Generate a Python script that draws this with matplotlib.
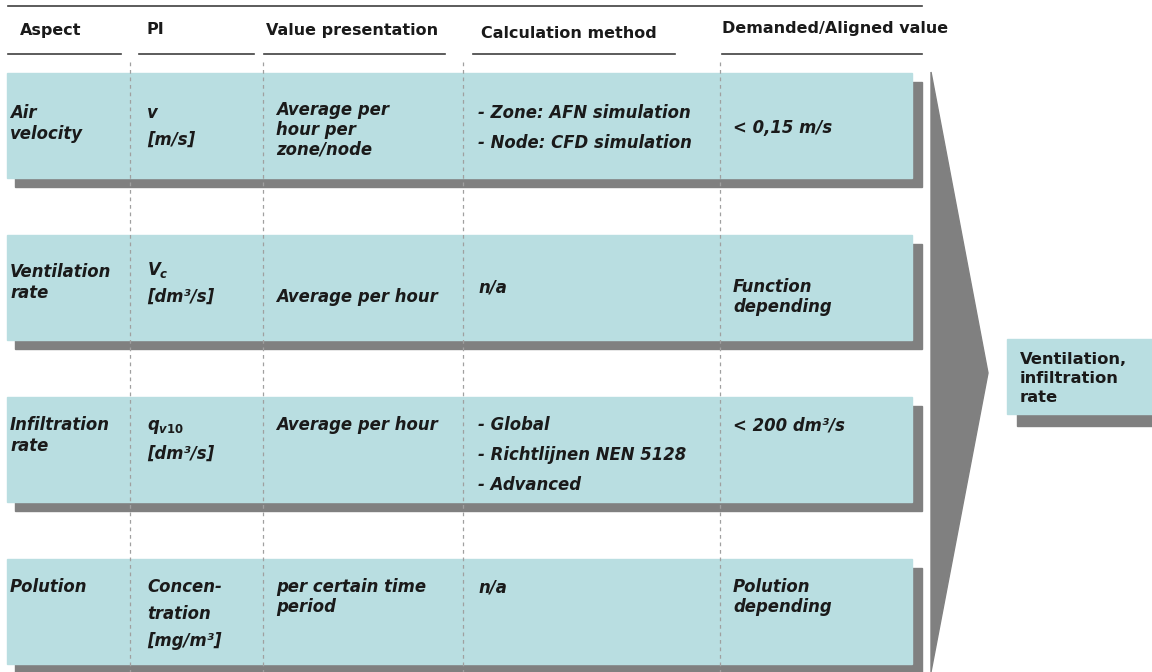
import matplotlib.pyplot as plt
from matplotlib.patches import Rectangle, Polygon

plt.rcParams["font.family"] = ["DejaVu Sans"]
plt.rcParams["mathtext.fontset"] = "custom"
plt.rcParams["mathtext.it"] = "DejaVu Sans:bold:italic"
plt.rcParams["mathtext.rm"] = "DejaVu Sans:bold"

# table content
headers = ["Aspect", "PI", "Value presentation", "Calculation method", "Demanded/Aligned value"]
aspects = [["Air", "velocity"], ["Ventilation", "rate"], ["Infiltration", "rate"], ["Polution"]]
pis = [["v", "[m/s]"], ["$V_c$", "[dm³/s]"], ["$q_{v10}$", "[dm³/s]"],
       ["Concen-", "tration", "[mg/m³]"]]
presentations = [["Average per", "hour per", "zone/node"], ["Average per hour"],
                 ["Average per hour"], ["per certain time", "period"]]
methods = [["- Zone: AFN simulation", "- Node: CFD simulation"], ["n/a"],
           ["- Global", "- Richtlijnen NEN 5128", "- Advanced"], ["n/a"]]
targets = [["< 0,15 m/s"], ["Function", "depending"], ["< 200 dm³/s"],
           ["Polution", "depending"]]
result = ["Ventilation,", "infiltration", "rate"]

# layout (pixels, origin top-left)
W, H = 1152, 672
row_tops = [73, 235, 397, 559]
row_h = 105
header_x = [20, 147, 266, 481, 722]
header_y = [30, 30, 31, 34, 28]
underlines = [(8, 121), (139, 254), (264, 445), (473, 675), (722, 922)]
dash_x = [130, 263, 463, 720]
col_x = [10, 147, 276, 478, 733]
# first-line offset from row top, line step
first_y = [[40, 40, 37, 40, 55],
           [37, 35, 62, 53, 52],
           [28, 30, 28, 28, 28],
           [28, 28, 28, 28, 28]]
steps = [21, 27, 20, 30, 20]

box_col = "#b9dee1"
shadow_col = "#808080"
text_col = "#1a1a1a"

fig = plt.figure(figsize=(W / 100, H / 100), dpi=100)
ax = fig.add_axes([0, 0, 1, 1])
ax.set_xlim(0, W)
ax.set_ylim(H, 0)
ax.axis("off")

# header
ax.plot([8, 922], [6, 6], color="#404040", lw=1.2)
for (x0, x1) in underlines:
    ax.plot([x0, x1], [54, 54], color="#404040", lw=1.2)
for txt, x, y in zip(headers, header_x, header_y):
    ax.text(x, y, txt, fontsize=11.5, weight="bold", color=text_col,
            va="center", ha="left")

# rows
columns = [aspects, pis, presentations, methods, targets]
for r, top in enumerate(row_tops):
    ax.add_patch(Rectangle((15, top + 9), 907, row_h, color=shadow_col, zorder=1))
    ax.add_patch(Rectangle((7, top), 905, row_h, color=box_col, zorder=2))
    for c, col in enumerate(columns):
        for i, line in enumerate(col[r]):
            ax.text(col_x[c], top + first_y[r][c] + i * steps[c], line,
                    fontsize=11.9, style="italic", weight="bold", color=text_col,
                    va="center", ha="left", zorder=4)

for x in dash_x:
    ax.plot([x, x], [62, H], color="#a0a0a0", lw=0.9, ls=(0, (3, 3)), zorder=3)

# big arrow
ax.add_patch(Polygon([(931, 72), (988, 373), (931, 672)], closed=True,
                     color=shadow_col, zorder=2))

# result box
ax.add_patch(Rectangle((1017, 349), 140, 77, color=shadow_col, zorder=1))
ax.add_patch(Rectangle((1007, 339), 145, 75, color=box_col, zorder=2))
for i, line in enumerate(result):
    ax.text(1020, 360 + i * 18.5, line, fontsize=11.8, weight="bold",
            color=text_col, va="center", ha="left", zorder=4)

fig.savefig("out.png", dpi=100)
